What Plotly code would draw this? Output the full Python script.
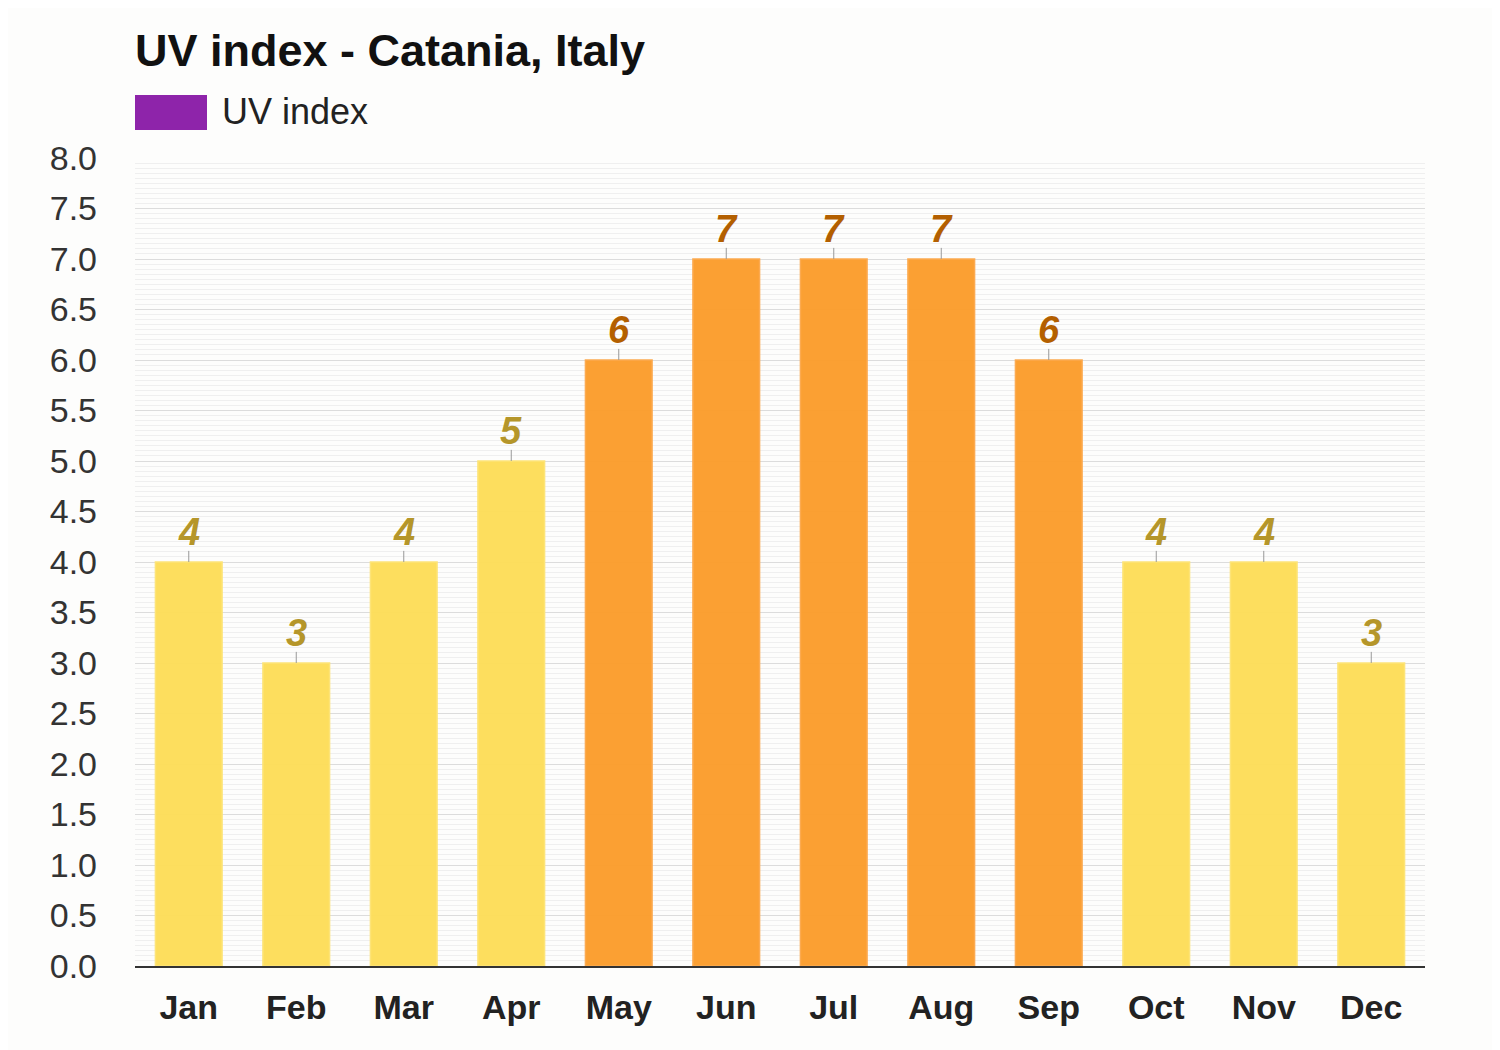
import plotly.graph_objects as go

months = ["Jan", "Feb", "Mar", "Apr", "May", "Jun", "Jul", "Aug", "Sep", "Oct", "Nov", "Dec"]
uv_index = [4, 3, 4, 5, 6, 7, 7, 7, 6, 4, 4, 3]
y_ticks = [0.0, 0.5, 1.0, 1.5, 2.0, 2.5, 3.0, 3.5, 4.0, 4.5, 5.0, 5.5, 6.0, 6.5, 7.0, 7.5, 8.0]

YELLOW = "rgba(253,220,85,0.95)"
YELLOW_LINE = "rgba(253,228,120,1)"
ORANGE = "rgba(251,155,40,0.95)"
ORANGE_LINE = "rgba(252,170,80,1)"
YELLOW_TXT = "#b5962a"
ORANGE_TXT = "#b35f00"

bar_colors = [ORANGE if v >= 6 else YELLOW for v in uv_index]
line_colors = [ORANGE_LINE if v >= 6 else YELLOW_LINE for v in uv_index]
text_colors = [ORANGE_TXT if v >= 6 else YELLOW_TXT for v in uv_index]

FONT = "Liberation Sans, Arial, sans-serif"

# page has an 8px body margin; plot area in figure coords
W, H = 1500, 1050
L, T = 127, 150
PW, PH = 1290, 808
R = W - L - PW
B = H - T - PH

fig = go.Figure()
fig.add_trace(go.Bar(
    x=months, y=uv_index, width=0.62,
    marker=dict(color=bar_colors, line=dict(color=line_colors, width=1.5)),
    error_y=dict(type="data", symmetric=False, array=[0.11] * len(uv_index),
                 arrayminus=[0] * len(uv_index), width=0, thickness=1, color="#999999"),
    showlegend=False, hoverinfo="x+y",
))

for m, v, c in zip(months, uv_index, text_colors):
    fig.add_annotation(x=m, y=v, text=f"<b><i>{v}</i></b>", showarrow=False,
                       yanchor="bottom", yshift=7,
                       font=dict(family=FONT, size=38, color=c))

# legend drawn manually (page coords: rect 135-207 x, 95-130 y)
fig.add_shape(type="rect", xref="paper", yref="paper",
              x0=0, x1=72 / PW, y0=(958 - 122) / PH, y1=(958 - 87) / PH,
              fillcolor="#8e24aa", line=dict(width=0))
fig.add_annotation(xref="paper", yref="paper", x=85 / PW, y=(958 - 104) / PH,
                   xanchor="left", yanchor="middle", text="UV index", showarrow=False,
                   font=dict(family=FONT, size=36, color="#222222"))

fig.update_layout(
    width=W, height=H,
    margin=dict(l=L, r=R, t=T, b=B),
    paper_bgcolor="#fdfdfc", plot_bgcolor="#fdfdfc",
    title=dict(text="<b>UV index - Catania, Italy</b>", x=L / W, xanchor="left",
               y=1 - 42 / H, yanchor="middle",
               font=dict(family=FONT, size=45, color="#111111")),
    font=dict(family=FONT),
    xaxis=dict(range=[-0.5, 11.5], showline=True, linecolor="#333333", linewidth=1.5,
               ticks="", tickfont=dict(family=FONT, size=34, color="#222222"),
               tickprefix="<b>", ticksuffix="</b>", showgrid=False,
               ticklabelstandoff=10),
    yaxis=dict(range=[0, 8], tickvals=y_ticks, tickformat=".1f",
               tickfont=dict(family=FONT, size=34, color="#333333"),
               gridcolor="#dcdcdc", gridwidth=1, zeroline=False, showline=False,
               ticks="", ticklabelstandoff=37,
               minor=dict(dtick=0.05, showgrid=True, gridcolor="#efefef", gridwidth=1)),
)

fig.write_html("out.html")
